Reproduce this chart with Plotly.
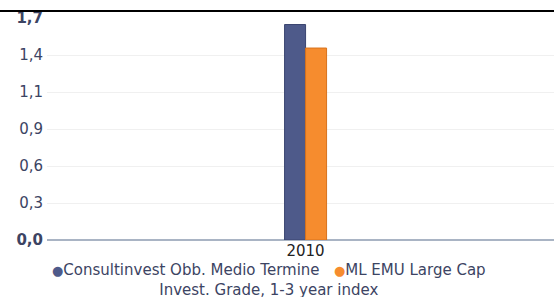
import plotly.graph_objects as go

categories = ["2010"]
series_names = ["Consultinvest Obb. Medio Termine", "ML EMU Large Cap Invest. Grade, 1-3 year index"]
consultinvest = [1.65]
ml_emu = [1.47]
tick_vals = [0, 1.7/6, 2*1.7/6, 3*1.7/6, 4*1.7/6, 5*1.7/6, 1.7]
tick_text = ["<b>0,0</b>", "0,3", "0,6", "0,9", "1,1", "1,4", "<b>1,7</b>"]

blue = "#4e5a8a"
orange = "#f68c2e"
txt = "#3c4463"

fig = go.Figure()
fig.add_trace(go.Bar(x=categories, y=consultinvest, name=series_names[0],
                     marker=dict(color=blue, line=dict(color="#3a4570", width=1))))
fig.add_trace(go.Bar(x=categories, y=ml_emu, name=series_names[1],
                     marker=dict(color=orange, line=dict(color="#d8731c", width=1))))

L, R, T, B = 47, 0, 18, 57
W, H = 554, 297
pw, ph = W - L - R, H - T - B

def px_x(x):
    return (x - L) / pw

def px_y(y):
    return (H - B - y) / ph

fig.update_layout(
    width=W, height=H,
    margin=dict(l=L, r=R, t=T, b=B),
    paper_bgcolor="white", plot_bgcolor="white",
    barmode="group", bargap=1 - 42/pw, bargroupgap=0,
    showlegend=False,
    font=dict(family="DejaVu Sans", color=txt, size=15),
    xaxis=dict(showgrid=False, showline=False, ticks="", tickfont=dict(size=15, color="#222"),
               zeroline=False, range=[-0.51, 0.49], ticklabelstandoff=0),
    yaxis=dict(range=[0, 1.7], tickvals=tick_vals, ticktext=tick_text,
               showgrid=True, gridcolor="#f0f0f0", gridwidth=1,
               zeroline=True, zerolinecolor="#a9b4c4", zerolinewidth=2,
               tickfont=dict(size=15, color=txt), ticks="", ticklabelstandoff=3),
    shapes=[dict(type="line", xref="paper", yref="paper",
                 x0=-L/pw, x1=1, y0=px_y(11), y1=px_y(11),
                 line=dict(color="black", width=2))],
    annotations=[
        dict(xref="paper", yref="paper", x=px_x(269), y=px_y(279.5),
             xanchor="center", yanchor="middle", showarrow=False, align="center",
             font=dict(size=15, color=txt),
             text=(f"<span style='color:{blue};font-size:13px'>●</span>{series_names[0]}   "
                   f"<span style='color:{orange};font-size:13px'>●</span>ML EMU Large Cap<br>"
                   "Invest. Grade, 1-3 year index")),
    ]
)

fig.write_html("out.html", config={"displayModeBar": False},
               post_script="document.body.style.margin='0';document.body.style.overflow='hidden';")
